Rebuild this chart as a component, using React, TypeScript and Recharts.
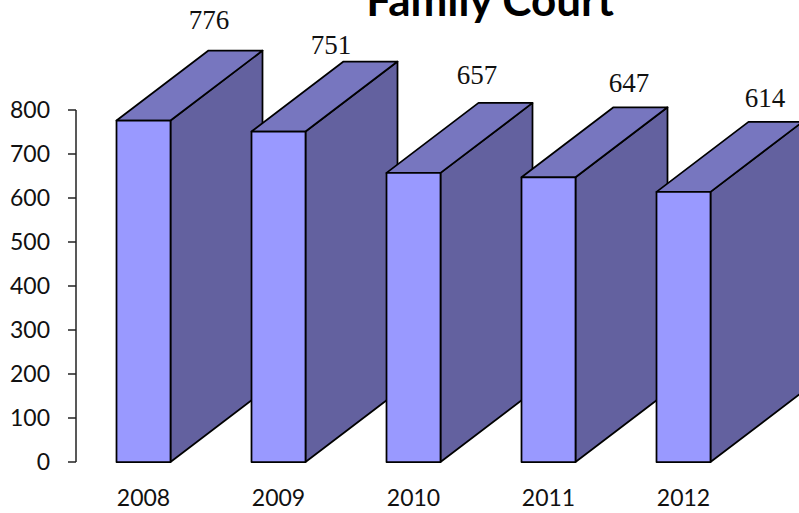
import { BarChart, Bar, XAxis, YAxis, LabelList } from 'recharts'

const years = ['2008', '2009', '2010', '2011', '2012']
const cases = [776, 751, 657, 647, 614]
const yTicks = [0, 100, 200, 300, 400, 500, 600, 700, 800]

// the value labels in the original were placed by hand, so each has its own nudge
const labelDx = [65, 52, 63, 80, 81]
const labelDy = [-92, -78, -89, -85, -85]

const DEPTH_X = 92
const DEPTH_Y = 70

const chartData = years.map((year, i) => ({ year, cases: cases[i] }))

function Box3D({ x, y, width, height }: any) {
  const left = x - 0.5
  const right = left + width
  const bottom = y + height
  const stroke = { stroke: '#000', strokeWidth: 1.75, strokeLinejoin: 'round' as const }
  return (
    <g>
      <polygon
        points={`${right},${y} ${right + DEPTH_X},${y - DEPTH_Y} ${right + DEPTH_X},${bottom - DEPTH_Y} ${right},${bottom}`}
        fill="#63619F"
        {...stroke}
      />
      <polygon
        points={`${left},${y} ${left + DEPTH_X},${y - DEPTH_Y} ${right + DEPTH_X},${y - DEPTH_Y} ${right},${y}`}
        fill="#7776BF"
        {...stroke}
      />
      <rect x={left} y={y} width={width} height={height} fill="#9999FF" {...stroke} />
    </g>
  )
}

function ValueLabel({ x, y, width, value, index }: any) {
  return (
    <text
      x={x + width / 2 + labelDx[index]}
      y={y + labelDy[index]}
      textAnchor="middle"
      fontFamily="'Liberation Serif', serif"
      fontSize={27}
      fill="#111"
    >
      {value}
    </text>
  )
}

export default function App() {
  return (
    <div style={{ position: 'absolute', left: 0, top: 0, width: 799, height: 513, background: '#fff' }}>
      <BarChart
        width={799}
        height={513}
        data={chartData}
        margin={{ top: 110, right: 48, bottom: 0, left: 0 }}
      >
        <text
          x={490}
          y={16}
          textAnchor="middle"
          fontFamily="Lato, sans-serif"
          fontWeight={700}
          fontSize={44}
          fill="#000"
        >
          Family Court
        </text>
        <XAxis
          dataKey="year"
          height={51}
          axisLine={false}
          tickLine={false}
          tickMargin={22}
          tick={{ fontFamily: 'Lato, sans-serif', fontSize: 23, fill: '#111' }}
        />
        <YAxis
          width={76}
          domain={[0, 800]}
          ticks={yTicks}
          interval={0}
          tickSize={8}
          tickMargin={18}
          axisLine={{ stroke: '#222', strokeWidth: 1.5 }}
          tickLine={{ stroke: '#222', strokeWidth: 1.5 }}
          tick={{ fontFamily: 'Lato, sans-serif', fontSize: 23, fill: '#111' }}
        />
        <Bar dataKey="cases" barSize={54} shape={<Box3D />} isAnimationActive={false}>
          <LabelList dataKey="cases" content={<ValueLabel />} />
        </Bar>
      </BarChart>
    </div>
  )
}
